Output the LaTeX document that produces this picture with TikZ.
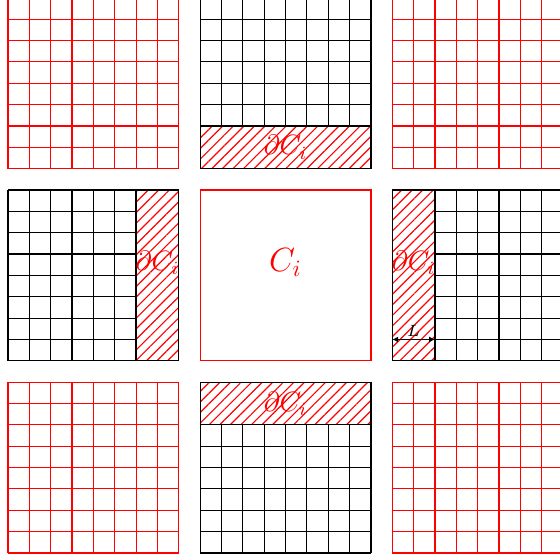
\documentclass[tikz,border=0pt]{standalone}
\usetikzlibrary{arrows.meta,patterns.meta}
\tikzset{
    ghost grid/.style={red, step=1, line width=0.5pt},
    cell grid/.style={black, step=1, line width=0.5pt},
    halo strip/.style={pattern={Lines[angle=45, distance=3.2pt, line width=0.5pt]}, pattern color=red},
    halo label/.style={red, font=\large},
    cell label/.style={red, font=\Large},
    width arrow/.style={{Latex[length=2.5pt,width=2.5pt]}-{Latex[length=2.5pt,width=2.5pt]}}
}
\begin{document}
\begin{tikzpicture}[x=9.15pt,y=9.15pt]
    \useasboundingbox (-0.375,-0.33) rectangle (25.81,25.9);

    % corner blocks (neighbours of neighbours)
    \foreach \bx/\by in {0/0,18/0,0/18,18/18} {
        \draw[ghost grid] (\bx,\by) grid ++(8,8);
    }

    % side blocks: cells plus the hatched halo next to C_i
    \draw[cell grid] (9,20) grid (17,26);
    \draw[cell grid, halo strip] (9,18) rectangle (17,20);
    \draw[cell grid] (9,0) grid (17,6);
    \draw[cell grid, halo strip] (9,6) rectangle (17,8);
    \draw[cell grid] (0,9) grid (6,17);
    \draw[cell grid, halo strip] (6,9) rectangle (8,17);
    \draw[cell grid] (20,9) grid (26,17);
    \draw[cell grid, halo strip] (18,9) rectangle (20,17);

    % the cell itself
    \draw[red, line width=0.5pt] (9,9) rectangle (17,17);
    \node[cell label] (cell) at (13,13.6) {$C_i$};

    \node[halo label] (top halo) at (13,19) {$\partial C_i$};
    \node[halo label] (bottom halo) at (13,7) {$\partial C_i$};
    \node[halo label] (left halo) at (7,13.6) {$\partial C_i$};
    \node[halo label] (right halo) at (19,13.6) {$\partial C_i$};

    \coordinate (L start) at (18,10);
    \coordinate (L end) at (20,10);
    \draw[width arrow] (L start) -- node[above, font=\scriptsize, inner sep=1pt] (L label) {$L$} (L end);
\end{tikzpicture}
\end{document}
